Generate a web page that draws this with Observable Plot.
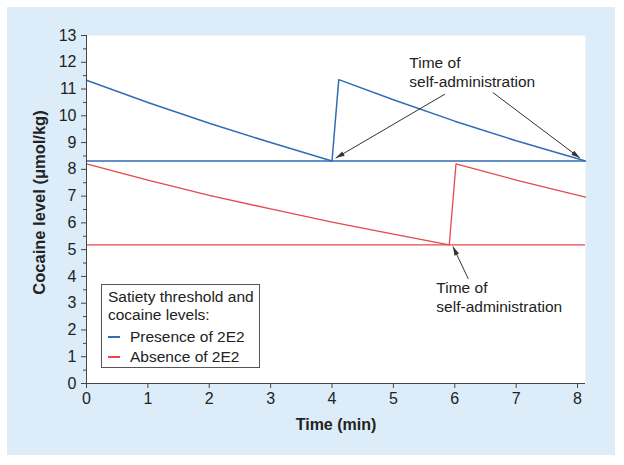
<!DOCTYPE html>
<html>
<head>
<meta charset="utf-8">
<script src="https://cdn.jsdelivr.net/npm/d3@7"></script>
<script src="https://cdn.jsdelivr.net/npm/@observablehq/plot@0.6"></script>
<style>
  body { margin: 0; background: #ffffff; }
  #wrap { position: relative; width: 624px; height: 465px; font-family: "Liberation Sans", Arial, sans-serif; }
  #panel { position: absolute; left: 7px; top: 7px; width: 608px; height: 448px; background: #dcedf9; }
  #chart { position: absolute; left: 0; top: 0; }
  #legend { position: absolute; left: 101px; top: 284px; width: 157px; height: 82px; border: 1.5px solid #555; background: #fff; font-size: 15.5px; color: #222; }
  #legend .ln { position: absolute; left: 6px; white-space: nowrap; line-height: 18px; }
  #legend .sw { display: inline-block; width: 12px; height: 0; border-top: 2px solid; vertical-align: middle; margin-right: 10px; position: relative; top: -1px; }
</style>
</head>
<body>
<div id="wrap">
  <div id="panel"></div>
  <div id="chart"></div>
  <div id="legend"></div>
</div>
<script>
// ---- data ----
const blueColor = "#2f6db5";
const redColor = "#e5484d";

// Presence of 2E2 (blue) cocaine level
const blueTime  = [0, 1, 2, 3, 4.0, 4.11, 5, 6, 7, 8.13];
const blueLevel = [11.33, 10.5, 9.72, 9.0, 8.31, 11.35, 10.6, 9.8, 9.07, 8.31];
const blueThreshold = 8.31;

// Absence of 2E2 (red) cocaine level
const redTime  = [0, 1, 2, 3, 4, 5, 5.91, 6.02, 7, 8.13];
const redLevel = [8.2, 7.6, 7.03, 6.52, 6.03, 5.58, 5.18, 8.2, 7.6, 6.96];
const redThreshold = 5.18;

const xTicks = [0, 1, 2, 3, 4, 5, 6, 7, 8];
const yTicks = [0, 1, 2, 3, 4, 5, 6, 7, 8, 9, 10, 11, 12, 13];
const yMinor = [0.5, 1.5, 2.5, 3.5, 4.5, 5.5, 6.5, 7.5, 8.5, 9.5, 10.5, 11.5, 12.5];
const xMax = 8.13;
const yMax = 13;

// annotation arrows (tail -> head), data coordinates
const arrowX1 = [5.84, 6.62, 6.22];
const arrowY1 = [10.81, 10.87, 3.91];
const arrowX2 = [4.06, 8.04, 5.97];
const arrowY2 = [8.42, 8.42, 5.12];

// annotation texts
const noteText = ["Time of", "self-administration", "Time of", "self-administration"];
const noteX = [5.26, 5.26, 5.70, 5.70];
const noteY = [11.97, 11.27, 3.55, 2.86];

const legendTitle = ["Satiety threshold and", "cocaine levels:"];
const legendLabels = ["Presence of 2E2", "Absence of 2E2"];
const legendColors = [blueColor, redColor];

// ---- build tables ----
const blue = blueTime.map((t, i) => ({t, v: blueLevel[i]}));
const red = redTime.map((t, i) => ({t, v: redLevel[i]}));
const arrows = arrowX1.map((x, i) => ({x1: x, y1: arrowY1[i], x2: arrowX2[i], y2: arrowY2[i]}));
const notes = noteText.map((text, i) => ({text, x: noteX[i], y: noteY[i]}));

// narrow filled arrowhead symbol, tip at origin pointing up
const headSymbol = {
  draw(ctx) {
    const L = 9, W = 5;
    ctx.moveTo(0, 0);
    ctx.lineTo(-W / 2, L);
    ctx.lineTo(W / 2, L);
    ctx.closePath();
  }
};

const font = "'Liberation Sans', Arial, sans-serif";

function build(headRotate) {
  return Plot.plot({
    width: 624,
    height: 465,
    marginLeft: 86,
    marginRight: 39,
    marginTop: 35,
    marginBottom: 82,
    style: {background: "transparent", fontFamily: font, fontSize: "16px", color: "#222"},
    x: {domain: [0, xMax]},
    y: {domain: [0, yMax]},
    marks: [
      Plot.frame({fill: "white", stroke: null}),
      Plot.ruleY([blueThreshold], {stroke: blueColor, strokeWidth: 1.5}),
      Plot.ruleY([redThreshold], {stroke: redColor, strokeWidth: 1.3}),
      Plot.line(blue, {x: "t", y: "v", stroke: blueColor, strokeWidth: 1.5}),
      Plot.line(red, {x: "t", y: "v", stroke: redColor, strokeWidth: 1.3}),
      Plot.link(arrows, {x1: "x1", y1: "y1", x2: "x2", y2: "y2", stroke: "#333", strokeWidth: 1}),
      Plot.dot(arrows, {x: "x2", y: "y2", symbol: headSymbol, r: 4, fill: "#333", stroke: null, rotate: (d, i) => headRotate[i]}),
      Plot.text(notes, {x: "x", y: "y", text: "text", textAnchor: "start", fontSize: 15.5, fill: "#222"}),
      Plot.axisY({ticks: yMinor, tickSize: 3, tickFormat: () => "", label: null, stroke: "#444"}),
      Plot.axisY({ticks: yTicks, tickSize: 5, tickPadding: 5, label: null, stroke: "#444", fontSize: 16}),
      Plot.axisX({ticks: xTicks, tickSize: 5, tickPadding: 4, label: null, stroke: "#444", fontSize: 16}),
      Plot.ruleX([0], {y1: 0, y2: yMax, stroke: "#444"}),
      Plot.ruleY([0], {x1: 0, x2: xMax, stroke: "#444"}),
      Plot.text(["Cocaine level (μmol/kg)"], {frameAnchor: "left", textAnchor: "middle", dx: -47, dy: -7, rotate: -90, fontWeight: "bold", fontSize: 16.5, fill: "#222"}),
      Plot.text(["Time (min)"], {frameAnchor: "bottom", dy: 46, fontWeight: "bold", fontSize: 16, fill: "#222"})
    ]
  });
}

// first pass to get the scales, then compute arrowhead angles in screen space
const probe = build(arrows.map(() => 0));
const sx = probe.scale("x"), sy = probe.scale("y");
const xs = d3.scaleLinear(sx.domain, sx.range);
const ys = d3.scaleLinear(sy.domain, sy.range);
const headRotate = arrows.map(a => {
  const dx = xs(a.x2) - xs(a.x1);
  const dy = ys(a.y2) - ys(a.y1);
  return Math.atan2(dx, -dy) * 180 / Math.PI;
});
document.getElementById("chart").appendChild(build(headRotate));

// legend
const lg = document.getElementById("legend");
const tops = [3, 21, 43, 63];
legendTitle.forEach((t, i) => {
  const d = document.createElement("div");
  d.className = "ln"; d.style.top = tops[i] + "px"; d.textContent = t;
  lg.appendChild(d);
});
legendLabels.forEach((t, i) => {
  const d = document.createElement("div");
  d.className = "ln"; d.style.top = tops[i + 2] + "px";
  const s = document.createElement("span");
  s.className = "sw"; s.style.borderColor = legendColors[i];
  d.appendChild(s);
  d.appendChild(document.createTextNode(t));
  lg.appendChild(d);
});
</script>
</body>
</html>
